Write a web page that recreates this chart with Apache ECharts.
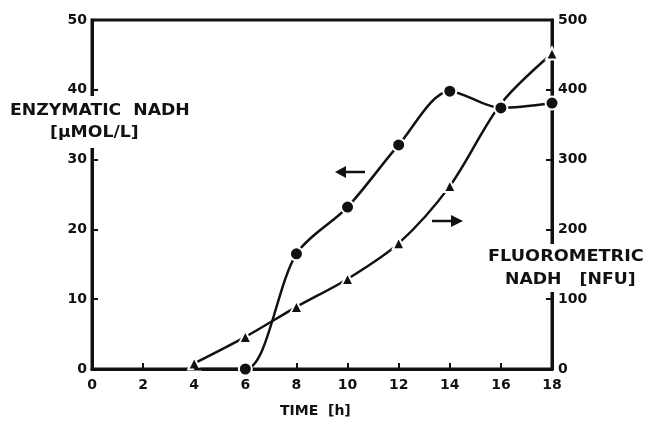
<!DOCTYPE html>
<html>
<head>
<meta charset="utf-8">
<script src="https://cdn.jsdelivr.net/npm/echarts@6/dist/echarts.min.js"></script>
<style>
  html, body { margin: 0; padding: 0; background: #fff; }
  #chart { width: 648px; height: 422px; }
</style>
</head>
<body>
<div id="chart"></div>
<script>
// values
const hours = [0, 2, 4, 6, 8, 10, 12, 14, 16, 18];
const enzymatic = [[4, 0], [6, 0], [8, 16.5], [10, 23.2], [12, 32.1], [14, 39.8], [16, 37.4], [18, 38.1]];   // µmol/L, left axis
const fluoro = [[4, 8], [6, 46], [8, 89], [10, 129], [12, 180], [14, 262], [16, 380], [18, 452]];           // NFU, right axis

const FONT = '"DejaVu Sans", "Liberation Sans", sans-serif';
const INK = '#111';

const c = echarts.init(document.getElementById('chart'), null, { renderer: 'canvas' });

const LABEL = { color: INK, fontFamily: FONT, fontWeight: 'bold', fontSize: 14 };
const AXIS_LINE = { show: true, lineStyle: { color: INK, width: 3 } };
const TICK = { show: true, inside: true, length: 6, lineStyle: { color: INK, width: 2 } };

// wide, letter-spaced capitals of the original: DejaVu bold stretched a bit
function title(text, left, top, size, sx) {
  return { type: 'text', left, top, z: 11, scaleX: sx, style: { text, fill: INK, font: 'bold ' + size + 'px ' + FONT } };
}

c.setOption({
  animation: false,
  grid: { left: 92, right: 96, top: 20, bottom: 53, show: true, borderColor: INK, borderWidth: 3 },
  xAxis: {
    type: 'value', min: 0, max: 18, interval: 2,
    axisLine: AXIS_LINE, axisTick: TICK, splitLine: { show: false },
    axisLabel: { ...LABEL, margin: 9 },
  },
  yAxis: [
    {
      type: 'value', min: 0, max: 50, interval: 10, position: 'left',
      axisLine: AXIS_LINE, axisTick: TICK, splitLine: { show: false },
      axisLabel: { ...LABEL, margin: 5 },
    },
    {
      type: 'value', min: 0, max: 500, interval: 100, position: 'right',
      axisLine: AXIS_LINE, axisTick: TICK, splitLine: { show: false },
      axisLabel: { ...LABEL, margin: 6 },
    },
  ],
  series: [
    {
      name: 'enzymatic', type: 'line', yAxisIndex: 0,
      // the 4 h point sits under the triangle there, so no marker of its own
      data: enzymatic.map((p, i) => i === 0 ? { value: p, symbol: 'none' } : p),
      smooth: 0.3, symbol: 'circle', symbolSize: 13,
      lineStyle: { color: INK, width: 2.5 },
      itemStyle: { color: INK, borderColor: '#fff', borderWidth: 2 },
      z: 3,
    },
    {
      name: 'fluorometric', type: 'line', yAxisIndex: 1, data: fluoro,
      smooth: 0.3, symbol: 'triangle', symbolSize: 12,
      lineStyle: { color: INK, width: 2.5 },
      itemStyle: { color: INK, borderColor: '#fff', borderWidth: 2 },
      z: 2,
    },
  ],
  graphic: [
    // axis titles sit on white patches that break the axis lines
    { type: 'rect', shape: { x: 84, y: 96, width: 18, height: 52 }, style: { fill: '#fff' }, z: 10 },
    title('ENZYMATIC  NADH', 10, 104, 15, 1.15),
    title('[µMOL/L]', 50, 126, 15, 1.15),
    { type: 'rect', shape: { x: 543, y: 244, width: 18, height: 48 }, style: { fill: '#fff' }, z: 10 },
    title('FLUOROMETRIC', 488, 250, 15, 1.18),
    title('NADH   [NFU]', 505, 273, 15, 1.15),
    title('TIME  [h]', 280, 404, 14, 1.0),
    // series arrows
    { type: 'line', shape: { x1: 343, y1: 172, x2: 365, y2: 172 }, style: { stroke: INK, lineWidth: 2.5 }, z: 11 },
    { type: 'polygon', shape: { points: [[335, 172], [346, 166], [346, 178]] }, style: { fill: INK }, z: 11 },
    { type: 'line', shape: { x1: 432, y1: 221, x2: 454, y2: 221 }, style: { stroke: INK, lineWidth: 2.5 }, z: 11 },
    { type: 'polygon', shape: { points: [[463, 221], [451, 215], [451, 227]] }, style: { fill: INK }, z: 11 },
  ],
});
</script>
</body>
</html>
